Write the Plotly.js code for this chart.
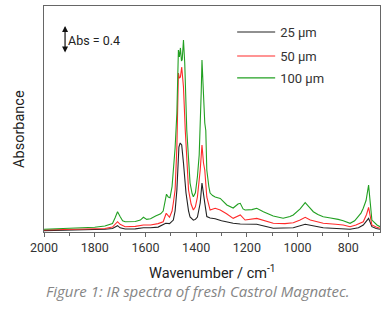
<!DOCTYPE html>
<html><head><meta charset="utf-8">
<script src="https://cdn.plot.ly/plotly-3.0.1.min.js"></script>
<style>html,body{margin:0;padding:0;background:#fff}#chart{width:391px;height:323px}</style>
</head><body><div id="chart"></div>
<script>
// Wavenumbers (cm^-1) and absorbance values
const wnGreen = [2000,1900,1800,1760,1730,1720,1710,1700,1690,1680,1660,1640,1620,1608,1595,1580,1560,1540,1530,1522,1517,1510,1503,1495,1490,1483,1476,1470,1466,1462,1458,1455,1450,1445,1437,1430,1424,1416,1411,1403,1395,1388,1384,1380,1377,1374,1370,1366,1362,1358,1350,1345,1335,1325,1305,1290,1279,1254,1235,1226,1215,1207,1180,1161,1135,1096,1057,1030,1017,990,970,955,938,920,899,870,859,840,820,793,775,766,750,741,730,720,712,707,687,675];
const absGreen = [0.039,0.05,0.067,0.085,0.12,0.2,0.29,0.22,0.16,0.147,0.145,0.15,0.17,0.21,0.18,0.19,0.23,0.26,0.3,0.45,0.54,0.5,0.49,0.65,0.886,1.2,1.7,2.6,2.5,2.63,2.45,2.457,2.743,2.414,1.457,1.0,0.7,0.55,0.504,0.56,0.79,1.1,1.457,2.0,2.457,2.171,1.7,1.557,1.45,0.886,0.65,0.557,0.52,0.5,0.48,0.43,0.386,0.343,0.4,0.41,0.33,0.314,0.32,0.339,0.29,0.229,0.196,0.22,0.243,0.33,0.419,0.36,0.29,0.25,0.219,0.2,0.196,0.18,0.16,0.124,0.16,0.196,0.27,0.339,0.45,0.67,0.4,0.171,0.1,0.076];

const wnRed = [2000,1900,1800,1760,1730,1710,1700,1680,1640,1608,1580,1550,1530,1518,1505,1495,1490,1483,1476,1470,1466,1462,1457,1450,1443,1436,1430,1420,1411,1403,1395,1384,1377,1371,1366,1358,1350,1345,1325,1305,1280,1254,1226,1207,1161,1130,1096,1050,1017,990,970,950,899,850,820,793,770,741,728,720,712,707,690,675];
const absRed = [0.029,0.035,0.043,0.05,0.07,0.147,0.11,0.076,0.08,0.1,0.1,0.12,0.147,0.267,0.21,0.3,0.414,0.6,1.214,2.271,2.2,2.214,2.357,2.071,1.457,1.0,0.6,0.4,0.314,0.36,0.5,0.886,1.243,0.986,0.886,0.5,0.4,0.314,0.339,0.314,0.26,0.195,0.243,0.171,0.195,0.16,0.124,0.12,0.133,0.17,0.21,0.17,0.124,0.11,0.1,0.076,0.1,0.147,0.25,0.353,0.2,0.1,0.07,0.053];

const wnBlack = [2000,1900,1800,1760,1730,1710,1700,1680,1640,1608,1580,1550,1520,1505,1490,1483,1476,1470,1468,1463,1457,1450,1440,1430,1424,1411,1403,1395,1384,1377,1371,1366,1358,1345,1325,1300,1254,1226,1161,1096,1017,970,899,850,793,760,741,720,712,707,690,675];
const absBlack = [0.019,0.025,0.036,0.04,0.05,0.09,0.06,0.043,0.045,0.061,0.06,0.07,0.124,0.12,0.171,0.3,0.6,1.0,1.214,1.271,1.243,0.986,0.557,0.3,0.214,0.17,0.18,0.214,0.414,0.7,0.5,0.414,0.22,0.2,0.19,0.16,0.124,0.114,0.11,0.053,0.061,0.11,0.061,0.05,0.039,0.06,0.1,0.195,0.12,0.076,0.05,0.039];

const seriesNames = ['25 μm','50 μm','100 μm'];
const tickVals = [2000,1800,1600,1400,1200,1000,800];
const tickText = ['2000','1800','1600','1400','1200','1000','800'];
const scaleBar = {wn:1917, top:2.943, size:0.4, label:'Abs = 0.4'};

const traces = [
  {x:wnBlack, y:absBlack, name:seriesNames[0], line:{color:'#222222',width:1.1}, legend:'legend'},
  {x:wnRed, y:absRed, name:seriesNames[1], line:{color:'#ff2a2a',width:1.1}, legend:'legend2'},
  {x:wnGreen, y:absGreen, name:seriesNames[2], line:{color:'#22a022',width:1.1}, legend:'legend3'}
].map(t => Object.assign({type:'scatter', mode:'lines'}, t));

const legBase = {x:0.56, xanchor:'left', yanchor:'top', bgcolor:'rgba(0,0,0,0)', borderwidth:0,
                 itemwidth:38, font:{size:13, color:'#333'}};

const layout = {
  width:391, height:323,
  margin:{l:44, r:11, t:6, b:91},
  paper_bgcolor:'#fff', plot_bgcolor:'#fff',
  font:{family:'Roboto, sans-serif', color:'#333'},
  showlegend:true,
  legend:Object.assign({}, legBase, {y:0.951}),
  legend2:Object.assign({}, legBase, {y:0.845}),
  legend3:Object.assign({}, legBase, {y:0.748}),
  xaxis:{range:[2000,675], tickvals:tickVals, ticktext:tickText, showgrid:false, zeroline:false,
         showline:true, mirror:true, linecolor:'#666', linewidth:1,
         ticks:'outside', ticklen:4, tickcolor:'#666', tickfont:{size:12.5, color:'#333'},
         minor:{dtick:100, ticks:'outside', ticklen:3, tickcolor:'#666', showgrid:false}},
  yaxis:{range:[0,3.229], showticklabels:false, ticks:'', showgrid:false, zeroline:false,
         showline:true, mirror:true, linecolor:'#666', linewidth:1},
  annotations:[
    {x:scaleBar.wn, y:scaleBar.top, ax:scaleBar.wn, ay:scaleBar.top-scaleBar.size, axref:'x', ayref:'y',
     xref:'x', yref:'y', text:'', showarrow:true, arrowhead:2, arrowside:'end+start', arrowsize:1, arrowwidth:1.2, arrowcolor:'#111'},
    {x:scaleBar.wn, y:scaleBar.top-scaleBar.size/2, xref:'x', yref:'y', text:scaleBar.label, showarrow:false,
     xanchor:'left', yanchor:'middle', xshift:1, font:{size:12.5, color:'#222'}},
    {x:0.5, y:-0.181, xref:'paper', yref:'paper', text:'Wavenumber / cm<sup>-1</sup>', showarrow:false,
     xanchor:'center', yanchor:'middle', font:{size:14.5, color:'#222'}},
    {x:-0.0714, y:0.456, xref:'paper', yref:'paper', text:'Absorbance', showarrow:false, textangle:-90,
     xanchor:'center', yanchor:'middle', font:{size:14.5, color:'#222'}},
    {x:0.5, y:-0.261, xref:'paper', yref:'paper', xshift:-14, text:'<i>Figure 1: IR spectra of fresh Castrol Magnatec.</i>', showarrow:false,
     xanchor:'center', yanchor:'middle', font:{family:'Open Sans, sans-serif', size:15, color:'#858585'}}
  ]
};
Plotly.newPlot('chart', traces, layout, {displayModeBar:false, staticPlot:true});
</script></body></html>
